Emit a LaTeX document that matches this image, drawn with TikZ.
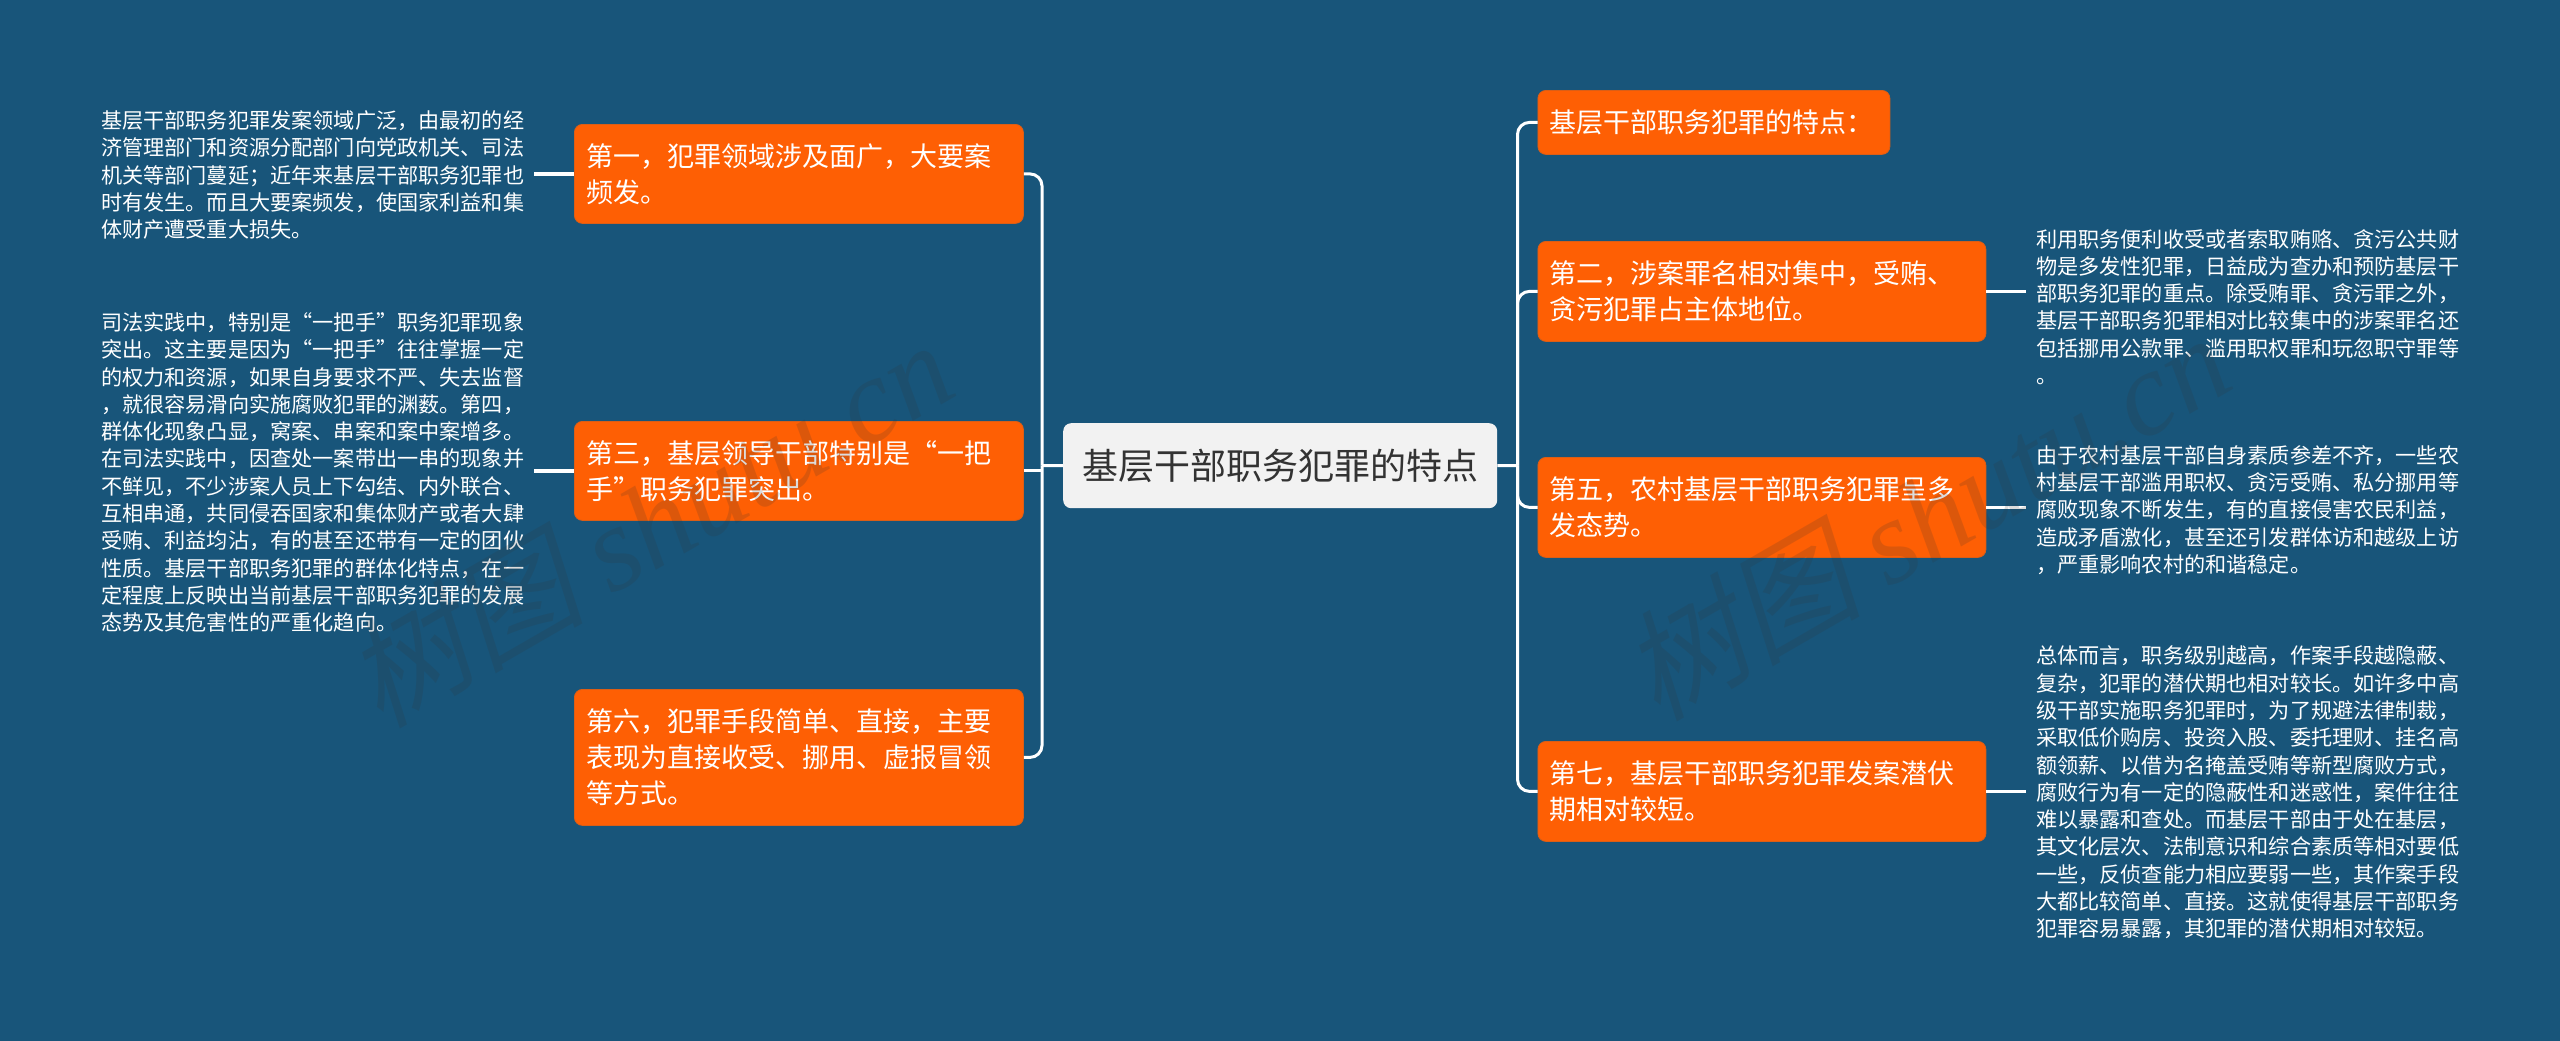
\documentclass[tikz,border=0pt]{standalone}
\usepackage{fontspec}
\setmainfont{Noto Sans CJK SC}
\newfontfamily\wmfont[FakeSlant=0.22]{Noto Sans CJK SC}
\newfontfamily\wmlatin{Liberation Serif}
\definecolor{bgblue}{HTML}{18557A}
\definecolor{boxorange}{HTML}{FE5F04}
\definecolor{rootfill}{HTML}{F2F2F2}
\definecolor{wmcolor}{HTML}{333333}
\tikzset{
  branch/.style={anchor=north west,inner sep=0pt,text=white,fill=boxorange,draw=boxorange!85!bgblue,line width=0.8pt,rounded corners=8pt,
    align=left,font=\fontsize{27}{36}\selectfont,inner xsep=12pt},
  leaf/.style={anchor=west,inner ysep=0pt,inner xsep=10pt,text=white,align=left,
    font=\fontsize{21.15}{27.3}\selectfont},
  root/.style={anchor=north west,inner sep=0pt,fill=rootfill,rounded corners=8pt,text=black!80,
    font=\fontsize{36}{44}\selectfont,align=center},
  spine/.style={draw=white,line width=3pt,rounded corners=12pt},
  stub/.style={draw=white,line width=3.5pt},
  wm/.style={text=wmcolor,text opacity=0.17,rotate=30,font=\fontsize{120}{130}\selectfont}
}
\begin{document}
\begin{tikzpicture}[x=1pt,y=-1pt]
\useasboundingbox (0,0) rectangle (2560,1041);
\fill[bgblue] (0,0) rectangle (2560,1041);
% root
\node[root,minimum width=434pt,minimum height=85pt] (c) at (1063,423) {基层干部职务犯罪的特点};
% left branches
\node[branch,minimum width=449pt,minimum height=99pt,text width=425pt] (b1) at (574,124) {第一，犯罪领域涉及面广，大要案\\频发。};
\node[branch,minimum width=449pt,minimum height=99pt,text width=425pt] (b3) at (574,421) {第三，基层领导干部特别是“一把\\手”职务犯罪突出。};
\node[branch,minimum width=449pt,minimum height=136pt,text width=425pt] (b6) at (574,689) {第六，犯罪手段简单、直接，主要\\表现为直接收受、挪用、虚报冒领\\等方式。};
% right branches
\node[branch,minimum width=352pt,minimum height=64pt,text width=328pt] (r1) at (1537.5,90) {基层干部职务犯罪的特点：};
\node[branch,minimum width=448pt,minimum height=100pt,text width=424pt] (r2) at (1537.5,241) {第二，涉案罪名相对集中，受贿、\\贪污犯罪占主体地位。};
\node[branch,minimum width=448pt,minimum height=100pt,text width=424pt] (r5) at (1537.5,457) {第五，农村基层干部职务犯罪呈多\\发态势。};
\node[branch,minimum width=448pt,minimum height=100pt,text width=424pt] (r7) at (1537.5,741) {第七，基层干部职务犯罪发案潜伏\\期相对较短。};
% leaves
\node[leaf] (t1) at (91,175) {基层干部职务犯罪发案领域广泛，由最初的经\\济管理部门和资源分配部门向党政机关、司法\\机关等部门蔓延；近年来基层干部职务犯罪也\\时有发生。而且大要案频发，使国家利益和集\\体财产遭受重大损失。};
\node[leaf] (t3) at (91,472.5) {司法实践中，特别是“一把手”职务犯罪现象\\突出。这主要是因为“一把手”往往掌握一定\\的权力和资源，如果自身要求不严、失去监督\\，就很容易滑向实施腐败犯罪的渊薮。第四，\\群体化现象凸显，窝案、串案和案中案增多。\\在司法实践中，因查处一案带出一串的现象并\\不鲜见，不少涉案人员上下勾结、内外联合、\\互相串通，共同侵吞国家和集体财产或者大肆\\受贿、利益均沾，有的甚至还带有一定的团伙\\性质。基层干部职务犯罪的群体化特点，在一\\定程度上反映出当前基层干部职务犯罪的发展\\态势及其危害性的严重化趋向。};
\node[leaf] (t2) at (2026,307) {利用职务便利收受或者索取贿赂、贪污公共财\\物是多发性犯罪，日益成为查办和预防基层干\\部职务犯罪的重点。除受贿罪、贪污罪之外，\\基层干部职务犯罪相对比较集中的涉案罪名还\\包括挪用公款罪、滥用职权罪和玩忽职守罪等\\。};
\node[leaf] (t5) at (2026,510) {由于农村基层干部自身素质参差不齐，一些农\\村基层干部滥用职权、贪污受贿、私分挪用等\\腐败现象不断发生，有的直接侵害农民利益，\\造成矛盾激化，甚至还引发群体访和越级上访\\，严重影响农村的和谐稳定。};
\node[leaf] (t7) at (2026,792.5) {总体而言，职务级别越高，作案手段越隐蔽、\\复杂，犯罪的潜伏期也相对较长。如许多中高\\级干部实施职务犯罪时，为了规避法律制裁，\\采取低价购房、投资入股、委托理财、挂名高\\额领薪、以借为名掩盖受贿等新型腐败方式，\\腐败行为有一定的隐蔽性和迷惑性，案件往往\\难以暴露和查处。而基层干部由于处在基层，\\其文化层次、法制意识和综合素质等相对要低\\一些，反侦查能力相应要弱一些，其作案手段\\大都比较简单、直接。这就使得基层干部职务\\犯罪容易暴露，其犯罪的潜伏期相对较短。};
% spines
\coordinate (sl) at (1042,465.5);
\coordinate (sr) at (1517.5,465.5);
\draw[spine] (b1.east) -| (sl);
\draw[spine] (b6.east) -| (sl);
\draw[spine] (b3.east) -- (sl |- b3.east);
\draw[spine] (c.west) -- (sl);
\draw[spine] (c.east) -- (sr);
\draw[spine] (r1.west) -| (sr);
\draw[spine] (r2.west) -| (sr);
\draw[spine] (r5.west) -| (sr);
\draw[spine] (r7.west) -| (sr);
% stubs
\draw[stub] (t1.east |- b1.west) -- (b1.west);
\draw[stub] (t3.east |- b3.west) -- (b3.west);
\draw[stub] (r2.east) -- (t2.west |- r2.east);
\draw[stub] (r5.east) -- (t5.west |- r5.east);
\draw[stub] (r7.east) -- (t7.west |- r7.east);
% watermarks, over everything
\node[wm] (wma) at (648,522) {{\wmfont 树图} {\wmlatin\itshape shutu.cn}};
\node[wm] (wmb) at (1925,515) {{\wmfont 树图} {\wmlatin\itshape shutu.cn}};
\end{tikzpicture}
\end{document}
